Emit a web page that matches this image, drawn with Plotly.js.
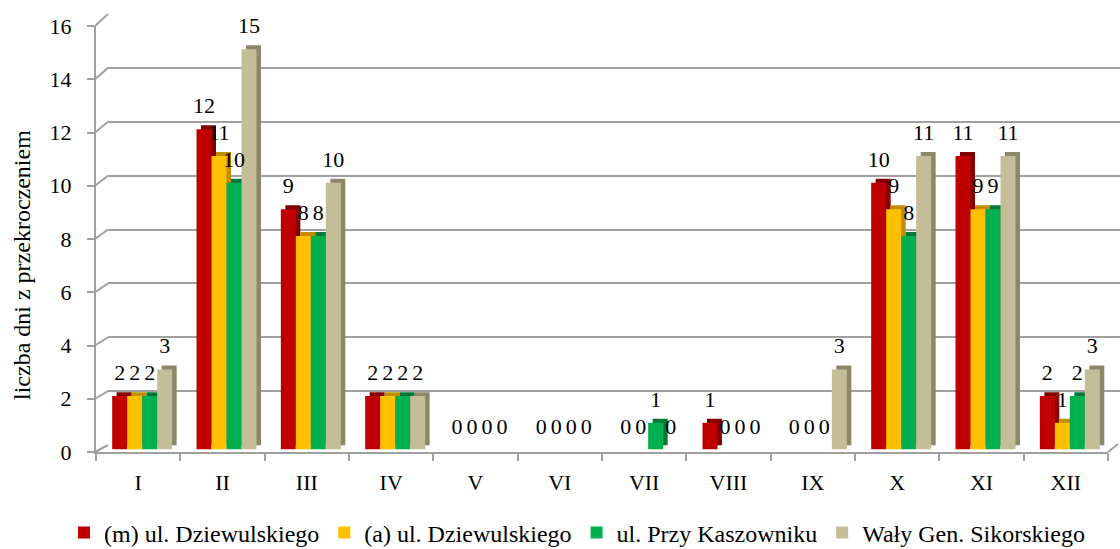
<!DOCTYPE html>
<html>
<head>
<meta charset="utf-8">
<script src="https://cdn.plot.ly/plotly-3.0.1.min.js"></script>
<style>html,body{margin:0;padding:0;background:#fff;}#chart{width:1120px;height:549px;}</style>
</head>
<body>
<div id="chart"></div>
<script>
// ---- data ----
const months = ['I','II','III','IV','V','VI','VII','VIII','IX','X','XI','XII'];
const seriesNames = ['(m) ul. Dziewulskiego','(a) ul. Dziewulskiego','ul. Przy Kaszowniku','Wały Gen. Sikorskiego'];
const mDziewulskiego = [2,12,9,2,0,0,0,1,0,10,11,2];
const aDziewulskiego = [2,11,8,2,0,0,0,0,0,9,9,1];
const przyKaszowniku = [2,10,8,2,0,0,1,0,0,8,9,2];
const walySikorskiego = [3,15,10,2,0,0,0,0,3,11,11,3];
const yTicks = [0,2,4,6,8,10,12,14,16];

// ---- style ----
const W = 1120, H = 549;
const FONT = 'Liberation Serif';
const FS = 22;      // ticks and data labels
const FS_L = 24;    // legend and axis title
const faceColors = ['#C00000','#FFC000','#00B050','#C4BD97'];
const sideColors = ['#820000','#C08E00','#00783A','#8C8769'];
const gridColor = '#A0A0A0';
const px = v => v / W;
const py = v => 1 - v / H;

const seriesValues = [mDziewulskiego, aDziewulskiego, przyKaszowniku, walySikorskiego];
const catW = 1012 / 12;            // px per category
const barW = 15 / catW;
const groupStart = -26 / catW;
const sideDx = 4.5 / catW;

const traces = [];
// back wall grid host
traces.push({type:'scatter', x:[0], y:[0], xaxis:'x', yaxis:'y', mode:'markers',
  marker:{opacity:0}, hoverinfo:'skip', showlegend:false});
// front axes host
traces.push({type:'scatter', x:months, y:walySikorskiego, xaxis:'x2', yaxis:'y2', mode:'markers',
  marker:{opacity:0}, hoverinfo:'skip', showlegend:false});
// side / top faces (depth layer, shifted right and up)
seriesValues.forEach((vals, i) => {
  traces.push({type:'bar', x:months, y:vals, xaxis:'x2', yaxis:'y3',
    width:barW, offset:groupStart + i*barW + sideDx, cliponaxis:false,
    marker:{color:sideColors[i], line:{width:0}}, hoverinfo:'skip', showlegend:false});
});
// front faces
seriesValues.forEach((vals, i) => {
  traces.push({type:'bar', name:seriesNames[i], x:months, y:vals, xaxis:'x2', yaxis:'y4',
    width:barW, offset:groupStart + i*barW, cliponaxis:false,
    marker:{color:faceColors[i], line:{width:0}}});
});
// data labels
seriesValues.forEach((vals, i) => {
  traces.push({type:'bar', x:months, y:vals, xaxis:'x2', yaxis:'y5',
    width:barW, offset:groupStart + i*barW,
    marker:{color:'rgba(0,0,0,0)', line:{width:0}},
    text:vals.map(String), textposition:'outside', constraintext:'none', cliponaxis:false,
    textfont:{family:FONT, size:FS, color:'#000'}, hoverinfo:'skip', showlegend:false});
});

// connectors from front axis to back wall
const frontY = v => 452 - v * (426 / 16);
const backY = v => 445 - v * (431 / 16);
const lineStyle = {color:gridColor, width:2};
const shapes = yTicks.map(v => ({type:'line', xref:'paper', yref:'paper',
  x0:px(95), y0:py(frontY(v)), x1:px(108), y1:py(backY(v)), line:lineStyle}));
shapes.push({type:'line', xref:'paper', yref:'paper', x0:px(1108), y0:py(452), x1:px(1118), y1:py(444), line:lineStyle});

const layout = {
  width:W, height:H,
  margin:{l:0, r:0, t:0, b:0, autoexpand:false},
  paper_bgcolor:'#fff', plot_bgcolor:'rgba(0,0,0,0)',
  font:{family:FONT, size:FS, color:'#000'},
  barmode:'overlay',
  showlegend:true,
  legend:{orientation:'h', x:px(577), xanchor:'center', y:py(533), yanchor:'middle',
    font:{family:FONT, size:FS_L, color:'#000'}, itemwidth:30, tracegroupgap:0},
  xaxis:{domain:[px(108), 1], range:[0,1], anchor:'y', visible:false, fixedrange:true},
  yaxis:{domain:[py(445), py(14)], range:[0,16], anchor:'x', dtick:2, tick0:0,
    showgrid:true, gridcolor:gridColor, gridwidth:2, zeroline:false, showline:false,
    showticklabels:false, ticks:'', fixedrange:true},
  xaxis2:{domain:[px(96), px(1108)], type:'category', categoryarray:months, categoryorder:'array',
    range:[-0.5, 11.5], anchor:'y2', showline:true, linecolor:gridColor, linewidth:2,
    ticks:'outside', tickson:'boundaries', ticklen:7, tickcolor:gridColor, tickwidth:2,
    showgrid:false, zeroline:false, tickfont:{family:FONT, size:FS, color:'#000'},
    ticklabelstandoff:10, fixedrange:true},
  yaxis2:{domain:[py(452), py(26)], range:[0,16], anchor:'x2', tickvals:yTicks,
    showline:true, linecolor:gridColor, linewidth:2, ticks:'outside', ticklen:7,
    tickcolor:gridColor, tickwidth:2, showgrid:false, zeroline:false,
    tickfont:{family:FONT, size:FS, color:'#000'}, ticklabelstandoff:11, fixedrange:true},
  yaxis3:{domain:[py(445.5), py(18.5)], range:[0,16], anchor:'x2', visible:false, fixedrange:true},
  yaxis4:{domain:[py(449.5), py(22.5)], range:[0,16], anchor:'x2', visible:false, fixedrange:true},
  yaxis5:{domain:[py(441.5), py(14.5)], range:[0,16], anchor:'x2', visible:false, fixedrange:true},
  shapes:shapes,
  annotations:[{text:'liczba dni z przekroczeniem', xref:'paper', yref:'paper',
    x:px(22), y:py(265), xanchor:'center', yanchor:'middle', textangle:-90, showarrow:false,
    font:{family:FONT, size:FS_L, color:'#000'}}]
};

Plotly.newPlot('chart', traces, layout, {displayModeBar:false, staticPlot:true});
</script>
</body>
</html>
